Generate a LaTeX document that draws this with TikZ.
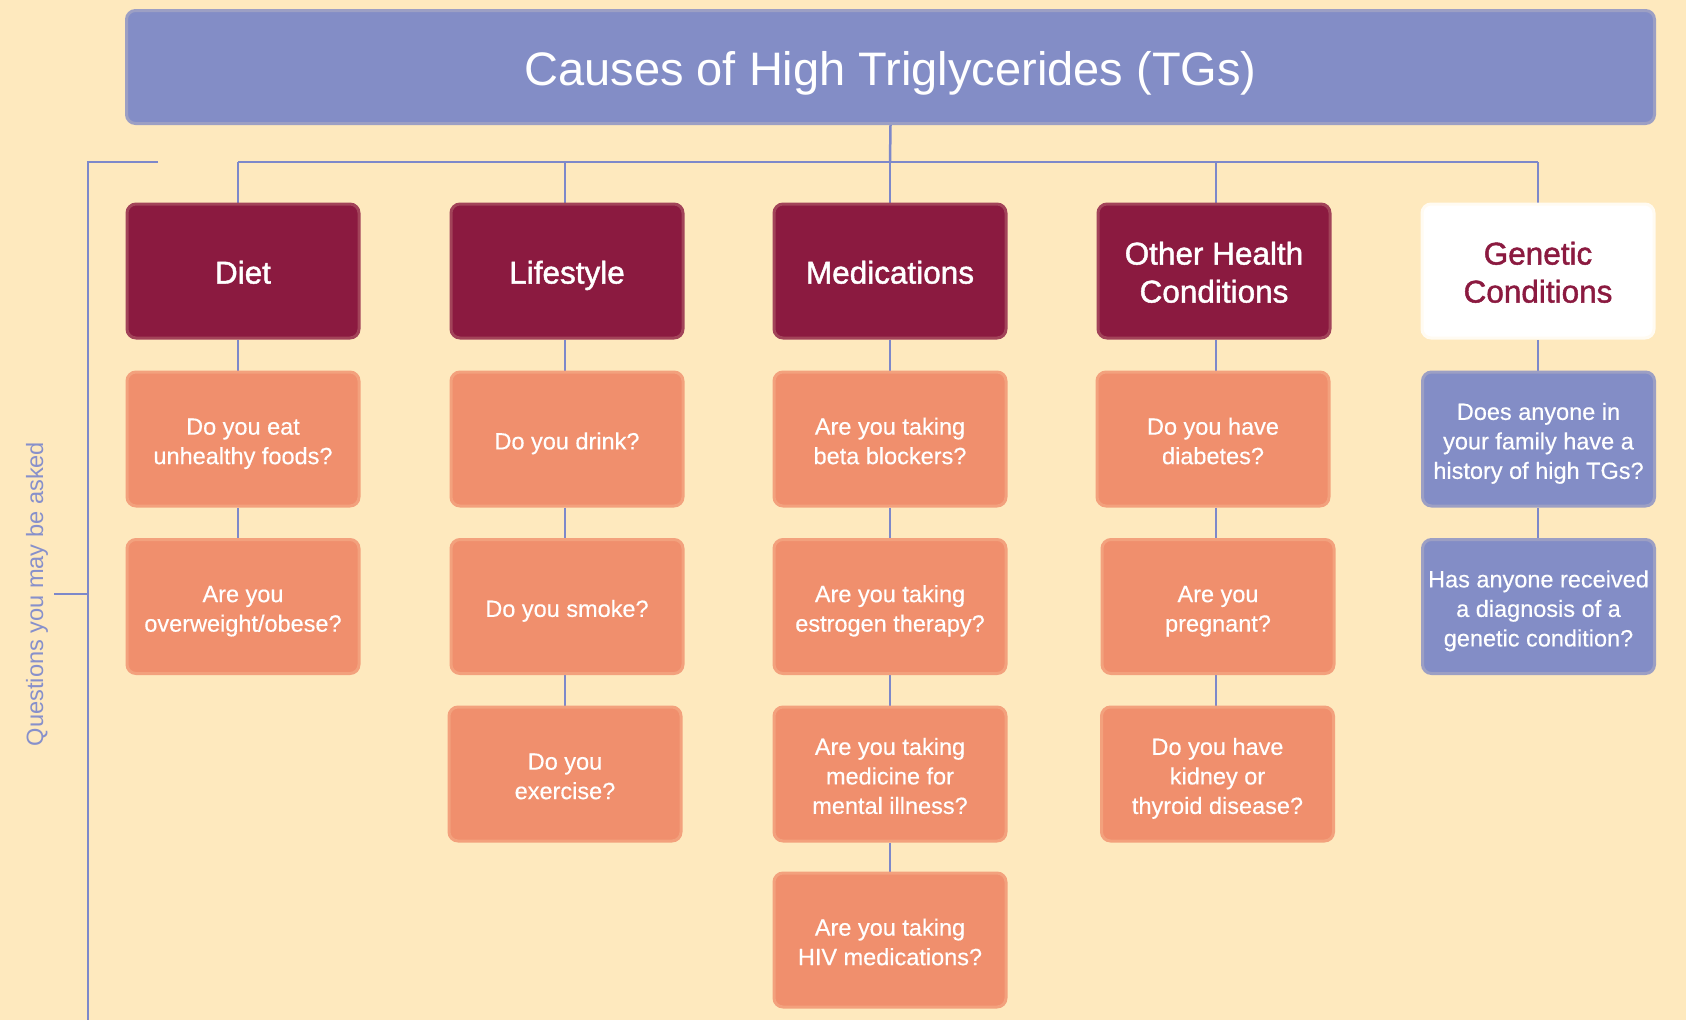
\documentclass[tikz,border=0pt]{standalone}
\usepackage{fontspec}
\setmainfont{Liberation Sans}
\newfontfamily\medfont[FakeBold=1.4]{Liberation Sans}
\newfontfamily\qfont[FakeBold=0.4]{Liberation Sans}
\usetikzlibrary{backgrounds}
\definecolor{bg}{HTML}{FEE9BE}
\definecolor{peri}{HTML}{838DC6}
\definecolor{maroon}{HTML}{8B1A40}
\definecolor{coral}{HTML}{F08F6D}
\definecolor{wirec}{HTML}{7D88CA}
\definecolor{sidetxt}{HTML}{8790CB}
\newcommand\qtop{\rule{0pt}{26.7pt}}
\newcommand\qbot{\rule[-5.9pt]{0pt}{5.9pt}}
\newcommand\ctop{\rule{0pt}{33pt}}
\newcommand\cbot{\rule[-7.9pt]{0pt}{7.9pt}}
\tikzset{
  box/.style={rectangle, rounded corners=9pt, minimum width=232pt, minimum height=134pt,
    align=center, inner sep=2pt, line width=3pt},
  titlebox/.style={rectangle, rounded corners=9pt, line width=3pt, fill=peri, draw=peri!80!bg,
    minimum width=1528pt, minimum height=113pt, text height=49.4pt, text depth=11.8pt,
    text=white, font=\fontsize{47}{56}\selectfont},
  catbox/.style={box, fill=maroon, draw=maroon!80!bg, text=white,
    font=\fontsize{31.5}{38}\selectfont\medfont},
  genbox/.style={catbox, fill=white, draw=white!80!bg, text=maroon},
  qbox/.style={box, fill=coral, draw=coral!80!bg, text=white,
    font=\fontsize{23.5}{29.5}\selectfont\qfont},
  gqbox/.style={qbox, fill=peri, draw=peri!80!bg},
  wire/.style={draw=wirec, line width=2.5pt},
  sidelabel/.style={text=sidetxt, rotate=90, inner sep=0pt, font=\fontsize{23.6}{28}\selectfont},
}
\begin{document}
\begin{tikzpicture}[x=1pt, y=-1pt]
\useasboundingbox (0,0) rectangle (1686,1020);

% title
\node[titlebox] (title) at (890.5,67) {Causes of High Triglycerides (TGs)};

% categories
\node[catbox] (diet) at (243,271) {\ctop Diet\cbot};
\node[catbox] (life) at (567,271) {\ctop Lifestyle\cbot};
\node[catbox] (meds) at (890,271) {\ctop Medications\cbot};
\node[catbox] (other) at (1214,271) {\ctop Other Health\\Conditions\cbot};
\node[genbox] (gen) at (1538,271) {\ctop Genetic\\Conditions\cbot};

% diet questions
\node[qbox] (d1) at (243,439) {\qtop Do you eat\\unhealthy foods?\qbot};
\node[qbox] (d2) at (243,606.5) {\qtop Are you\\overweight/obese?\qbot};
% lifestyle
\node[qbox] (l1) at (567,439) {\qtop Do you drink?\qbot};
\node[qbox] (l2) at (567,606.5) {\qtop Do you smoke?\qbot};
\node[qbox] (l3) at (565,774) {\qtop Do you\\exercise?\qbot};
% medications
\node[qbox] (m1) at (890,439) {\qtop Are you taking\\beta blockers?\qbot};
\node[qbox] (m2) at (890,606.5) {\qtop Are you taking\\estrogen therapy?\qbot};
\node[qbox] (m3) at (890,774) {\qtop Are you taking\\medicine for\\mental illness?\qbot};
\node[qbox] (m4) at (890,940) {\qtop Are you taking\\HIV medications?\qbot};
% other health
\node[qbox] (o1) at (1213,439) {\qtop Do you have\\diabetes?\qbot};
\node[qbox] (o2) at (1218,606.5) {\qtop Are you\\pregnant?\qbot};
\node[qbox] (o3) at (1217.5,774) {\qtop Do you have\\kidney or\\thyroid disease?\qbot};
% genetic
\node[gqbox] (g1) at (1538.5,439) {\qtop Does anyone in\\your family have a\\history of high TGs?\qbot};
\node[gqbox] (g2) at (1538.5,606.5) {\qtop Has anyone received\\a diagnosis of a\\genetic condition?\qbot};

% bracket and side label
\coordinate (bus) at (890,162);
\coordinate (busL) at (238,162);
\coordinate (busR) at (1538,162);
\coordinate (brT) at (158,162);
\coordinate (brC) at (88,162);
\coordinate (brB) at (88,1020);
\coordinate (brM) at (88,594);
\coordinate (brL) at (54,594);
\node[sidelabel] (side) at (37,594) {Questions you may be asked};

\begin{pgfonlayer}{background}
  \fill[bg] (0,0) rectangle (1686,1020);
  \draw[wire] (title.south) -- (bus);
  \draw[wire] (busL) -- (busR);
  \draw[wire] ([xshift=-5pt]diet.north) -- ([xshift=-5pt]diet.north |- bus);
  \draw[wire] ([xshift=-2pt]life.north) -- ([xshift=-2pt]life.north |- bus);
  \draw[wire] (meds.north) -- (meds.north |- bus);
  \draw[wire] ([xshift=2pt]other.north) -- ([xshift=2pt]other.north |- bus);
  \draw[wire] (gen.north) -- (gen.north |- bus);
  % diet chain
  \draw[wire] ([xshift=-5pt]diet.south) -- ([xshift=-5pt]d1.north);
  \draw[wire] ([xshift=-5pt]d1.south) -- ([xshift=-5pt]d2.north);
  % lifestyle chain
  \draw[wire] ([xshift=-2pt]life.south) -- ([xshift=-2pt]l1.north);
  \draw[wire] ([xshift=-2pt]l1.south) -- ([xshift=-2pt]l2.north);
  \draw[wire] ([xshift=-2pt]l2.south) -- (l3.north);
  % medications chain
  \draw[wire] (meds.south) -- (m1.north);
  \draw[wire] (m1.south) -- (m2.north);
  \draw[wire] (m2.south) -- (m3.north);
  \draw[wire] (m3.south) -- (m4.north);
  % other chain
  \draw[wire] ([xshift=2pt]other.south) -- ([xshift=3pt]o1.north);
  \draw[wire] ([xshift=3pt]o1.south) -- ([xshift=-2pt]o2.north);
  \draw[wire] ([xshift=-2pt]o2.south) -- ([xshift=-1.5pt]o3.north);
  % genetic chain
  \draw[wire] (gen.south) -- ([xshift=-0.5pt]g1.north);
  \draw[wire] ([xshift=-0.5pt]g1.south) -- ([xshift=-0.5pt]g2.north);
  % bracket
  \draw[wire] (brT) -- (brC) -- (brB);
  \draw[wire] (brM) -- (brL);
\end{pgfonlayer}
\end{tikzpicture}
\end{document}
